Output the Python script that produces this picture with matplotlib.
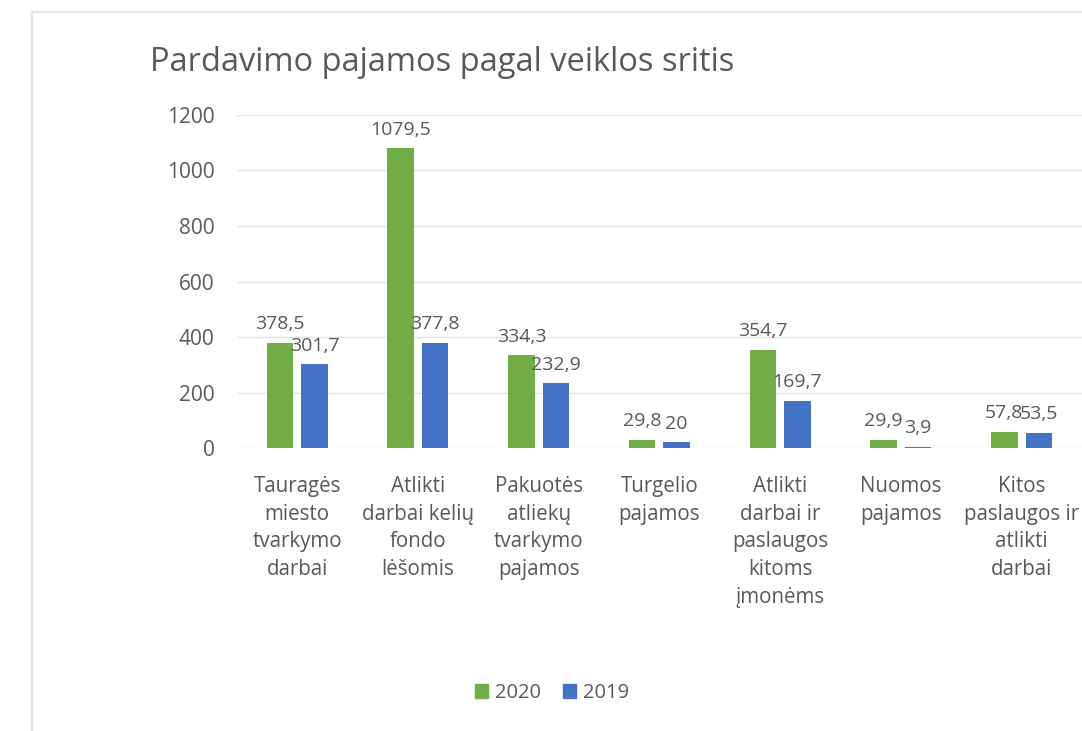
import numpy as np
import matplotlib.pyplot as plt
from matplotlib.patches import Patch
from matplotlib.lines import Line2D

plt.rcParams.update({
    'font.family': ['Open Sans', 'DejaVu Sans'],
    'text.color': '#595959',
    'axes.labelcolor': '#595959',
    'xtick.color': '#595959',
    'ytick.color': '#595959',
})

# duomenys
categories = [
    'Tauragės\nmiesto\ntvarkymo\ndarbai',
    'Atlikti\ndarbai kelių\nfondo\nlėšomis',
    'Pakuotės\natliekų\ntvarkymo\npajamos',
    'Turgelio\npajamos',
    'Atlikti\ndarbai ir\npaslaugos\nkitoms\nįmonėms',
    'Nuomos\npajamos',
    'Kitos\npaslaugos ir\natlikti\ndarbai',
]
v2020 = [378.5, 1079.5, 334.3, 29.8, 354.7, 29.9, 57.8]
v2019 = [301.7, 377.8, 232.9, 20, 169.7, 3.9, 53.5]
lab2020 = ['378,5', '1079,5', '334,3', '29,8', '354,7', '29,9', '57,8']
lab2019 = ['301,7', '377,8', '232,9', '20', '169,7', '3,9', '53,5']
yticks = [0, 200, 400, 600, 800, 1000, 1200]

green = '#70AD47'
blue = '#4472C4'

fig = plt.figure(figsize=(10.82, 7.31), dpi=100)
ax = fig.add_axes([0.2188, 0.3871, 0.7812, 0.4556])

x = np.arange(len(categories))
w = 0.22
off = 0.143
ax.bar(x - off, v2020, w, color=green, zorder=3)
ax.bar(x + off, v2019, w, color=blue, zorder=3)

# reikšmių etiketės virš stulpelių
for xi, v, t in zip(x, v2020, lab2020):
    ax.annotate(t, (xi - off, v), xytext=(0, 7), textcoords='offset points',
                ha='center', va='bottom', fontsize=14, color='#595959')
for xi, v, t in zip(x, v2019, lab2019):
    ax.annotate(t, (xi + off, v), xytext=(0, 7), textcoords='offset points',
                ha='center', va='bottom', fontsize=14, color='#595959')

ax.set_xlim(-0.5, len(categories) - 0.5)
ax.set_ylim(0, 1200)
ax.set_yticks(yticks)
ax.set_yticklabels([str(t) for t in yticks], fontsize=15)
ax.set_xticks(x)
ax.set_xticklabels(categories, fontsize=14.8, linespacing=1.42, va='top')
ax.tick_params(axis='both', length=0)
ax.tick_params(axis='y', pad=16)
ax.tick_params(axis='x', pad=20)
ax.grid(axis='y', color='#e3e3e3', linewidth=1, zorder=0)
for s in ax.spines.values():
    s.set_visible(False)

fig.text(0.1386, 0.915, 'Pardavimo pajamos pagal veiklos sritis',
         fontsize=23.5, color='#595959', ha='left', va='center')

handles = [Patch(color=green, label='2020'), Patch(color=blue, label='2019')]
fig.legend(handles=handles, loc='center', bbox_to_anchor=(0.51, 0.052), ncol=2,
           frameon=False, fontsize=14.5, handlelength=0.65, handleheight=0.65,
           handletextpad=0.35, columnspacing=1.1)

# blankūs skenuoto lapo rėmo kraštai
fig.add_artist(Line2D([0.03, 0.03], [0, 0.984], color='#e6e6e6', lw=1.5))
fig.add_artist(Line2D([0.03, 1], [0.984, 0.984], color='#e6e6e6', lw=1.5))

fig.savefig('out.png', dpi=100, facecolor='white')
